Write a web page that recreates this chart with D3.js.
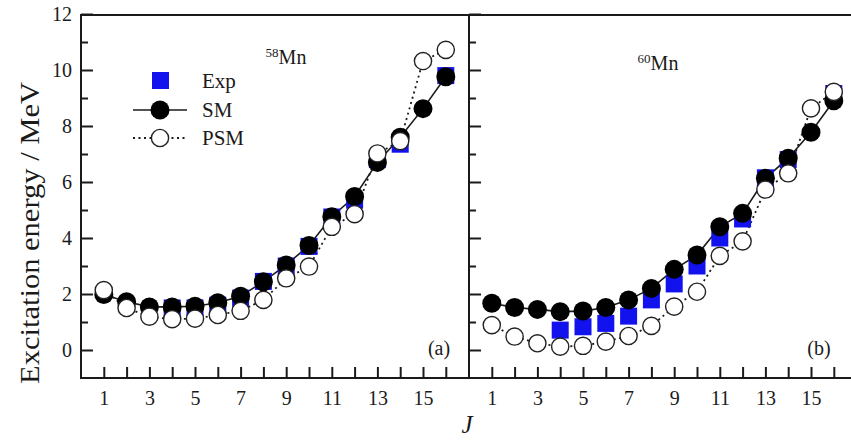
<!DOCTYPE html>
<html>
<head>
<meta charset="utf-8">
<script src="https://cdn.jsdelivr.net/npm/d3@7"></script>
<style>
  body { margin: 0; background: #fff; }
  svg text { font-family: "Liberation Serif", "Times New Roman", "DejaVu Serif", serif !important; fill: #1a1a1a; }
</style>
</head>
<body>
<div id="chart"></div>
<script>

// J values
var jAll = [1,2,3,4,5,6,7,8,9,10,11,12,13,14,15,16];
var jExp = [4,5,6,7,8,9,10,11,12,13,14,16];

// 58Mn
var exp58 = [1.5,1.5,1.6,1.85,2.45,3.0,3.7,4.75,5.35,6.8,7.35,9.8];
var sm58  = [1.98,1.72,1.54,1.54,1.56,1.69,1.92,2.44,3.04,3.73,4.76,5.48,6.7,7.6,8.62,9.76];
var psm58 = [2.14,1.5,1.19,1.1,1.12,1.25,1.4,1.79,2.56,2.98,4.4,4.85,7.02,7.46,10.32,10.72];

// 60Mn
var exp60 = [0.71,0.83,0.95,1.21,1.79,2.36,3.0,4.0,4.68,6.15,6.8,9.16];
var sm60  = [1.67,1.52,1.45,1.37,1.39,1.52,1.79,2.2,2.88,3.39,4.4,4.88,6.13,6.85,7.78,8.9];
var psm60 = [0.89,0.48,0.24,0.12,0.15,0.3,0.5,0.86,1.55,2.08,3.36,3.88,5.73,6.31,8.63,9.22];

var yTicks = [0,2,4,6,8,10,12];
var yMinor = [1,3,5,7,9,11];
var xLabels = [1,3,5,7,9,11,13,15];

var W = 851, H = 441;
var top_ = 14, bottom = 378;
var panelW = 387.6;
var serif = '"Liberation Serif", "Times New Roman", serif';
var panels = [
  {x0: 81,  name: "58", exp: exp58, sm: sm58, psm: psm58, tag: "(a)", labelX: 286, labelY: 64},
  {x0: 469, name: "60", exp: exp60, sm: sm60, psm: psm60, tag: "(b)", labelX: 658, labelY: 70}
];

var y = d3.scaleLinear().domain([-1, 12]).range([bottom, top_]);

var svg = d3.select("#chart").append("svg")
    .attr("width", W)
    .attr("height", H)
    .attr("font-family", serif);

var ink = "#1a1a1a";
var blue = "#1212ee";

panels.forEach(function(p, i) {
  var x = d3.scaleLinear().domain([0, 17]).range([p.x0, p.x0 + panelW]);

  var g = svg.append("g");

  // x axis, ticks pointing inward
  var xAxis = d3.axisBottom(x)
      .tickValues(jAll)
      .tickSize(-11)
      .tickSizeOuter(0)
      .tickPadding(13)
      .tickFormat(function(d) { return xLabels.indexOf(d) >= 0 ? d : ""; });
  g.append("g")
      .attr("transform", "translate(0," + bottom + ")")
      .call(xAxis)
      .attr("font-family", serif)
      .call(function(a) {
        a.select(".domain").remove();
        a.selectAll("line").attr("stroke", ink).attr("stroke-width", 2);
        a.selectAll("text").style("font-size", "20px").attr("fill", ink);
      });

  // y axis (labels only on the first panel)
  var yAxis = d3.axisLeft(y)
      .tickValues(yTicks)
      .tickSize(-12)
      .tickSizeOuter(0)
      .tickPadding(9)
      .tickFormat(function(d) { return i == 0 ? d : ""; });
  g.append("g")
      .attr("transform", "translate(" + p.x0 + ",0)")
      .call(yAxis)
      .attr("font-family", serif)
      .call(function(a) {
        a.select(".domain").remove();
        a.selectAll("line").attr("stroke", ink).attr("stroke-width", 2);
        a.selectAll("text").style("font-size", "20px").attr("fill", ink);
      });
  var yMinorAxis = d3.axisLeft(y).tickValues(yMinor).tickSize(-7).tickFormat("");
  g.append("g")
      .attr("transform", "translate(" + p.x0 + ",0)")
      .call(yMinorAxis)
      .call(function(a) {
        a.select(".domain").remove();
        a.selectAll("line").attr("stroke", ink).attr("stroke-width", 2);
      });

  // frame lines
  g.append("line").attr("x1", p.x0).attr("x2", p.x0).attr("y1", top_).attr("y2", bottom)
      .attr("stroke", ink).attr("stroke-width", 2);
  g.append("line").attr("x1", p.x0 - 1).attr("x2", p.x0 + panelW + 1).attr("y1", bottom).attr("y2", bottom)
      .attr("stroke", ink).attr("stroke-width", 2);
  g.append("line").attr("x1", p.x0 - 1).attr("x2", p.x0 + panelW + 1).attr("y1", top_ + 1).attr("y2", top_ + 1)
      .attr("stroke", ink).attr("stroke-width", 2);

  var line = d3.line()
      .x(function(d) { return x(d[0]); })
      .y(function(d) { return y(d[1]); });

  var smData = jAll.map(function(j, k) { return [j, p.sm[k]]; });
  var psmData = jAll.map(function(j, k) { return [j, p.psm[k]]; });
  var expData = jExp.map(function(j, k) { return [j, p.exp[k]]; });

  g.append("path").datum(smData)
      .attr("d", line).attr("fill", "none")
      .attr("stroke", ink).attr("stroke-width", 1.6);
  g.append("path").datum(psmData)
      .attr("d", line).attr("fill", "none")
      .attr("stroke", ink).attr("stroke-width", 1.8)
      .attr("stroke-dasharray", "2,3.5");

  g.selectAll(".exp").data(expData).enter().append("rect")
      .attr("class", "exp")
      .attr("x", function(d) { return x(d[0]) - 8.5; })
      .attr("y", function(d) { return y(d[1]) - 8.5; })
      .attr("width", 17).attr("height", 17)
      .attr("fill", blue);

  g.selectAll(".sm").data(smData).enter().append("circle")
      .attr("class", "sm")
      .attr("cx", function(d) { return x(d[0]); })
      .attr("cy", function(d) { return y(d[1]); })
      .attr("r", 9.5)
      .attr("fill", "#000");

  g.selectAll(".psm").data(psmData).enter().append("circle")
      .attr("class", "psm")
      .attr("cx", function(d) { return x(d[0]); })
      .attr("cy", function(d) { return y(d[1]); })
      .attr("r", 8.6)
      .attr("fill", "#fff")
      .attr("stroke", "#222").attr("stroke-width", 1.4);

  // nucleus label
  var lab = g.append("text")
      .attr("x", p.labelX).attr("y", p.labelY)
      .attr("text-anchor", "middle")
      .style("font-size", "20px");
  lab.append("tspan").text(p.name)
      .style("font-size", "13px").attr("dy", "-7");
  lab.append("tspan").text("Mn").attr("dy", "7");

  g.append("text")
      .attr("x", p.x0 + (i == 0 ? 358 : 350)).attr("y", 355)
      .attr("text-anchor", "middle")
      .style("font-size", "20px")
      .text(p.tag);
});

// legend
var leg = svg.append("g");
leg.append("rect").attr("x", 152).attr("y", 72).attr("width", 17).attr("height", 17).attr("fill", blue);
leg.append("line").attr("x1", 133).attr("x2", 187).attr("y1", 110).attr("y2", 110)
    .attr("stroke", ink).attr("stroke-width", 1.6);
leg.append("circle").attr("cx", 160).attr("cy", 110).attr("r", 9.5).attr("fill", "#000");
leg.append("line").attr("x1", 133).attr("x2", 187).attr("y1", 138).attr("y2", 138)
    .attr("stroke", ink).attr("stroke-width", 1.8).attr("stroke-dasharray", "2,3.5");
leg.append("circle").attr("cx", 160).attr("cy", 138).attr("r", 8.6)
    .attr("fill", "#fff").attr("stroke", "#222").attr("stroke-width", 1.4);
leg.selectAll(".lt").data(["Exp", "SM", "PSM"]).enter().append("text")
    .attr("x", 202)
    .attr("y", function(d, k) { return 88 + k * 28.5; })
    .style("font-size", "21px")
    .text(function(d) { return d; });

// axis titles
svg.append("text")
    .attr("transform", "translate(39,233) rotate(-90)")
    .attr("text-anchor", "middle")
    .style("font-size", "28px")
    .attr("textLength", 302)
    .attr("lengthAdjust", "spacingAndGlyphs")
    .text("Excitation energy / MeV");

svg.append("text")
    .attr("x", 467).attr("y", 433)
    .attr("text-anchor", "middle")
    .style("font-size", "25px")
    .style("font-style", "italic")
    .text("J");

</script>
</body>
</html>
